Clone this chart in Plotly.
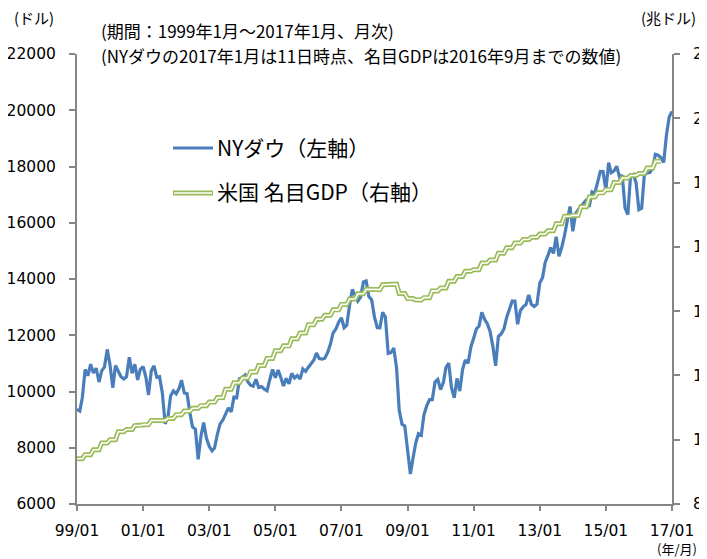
import pandas as pd
import plotly.graph_objects as go

# NY Dow monthly (1999/01 - 2017/01), USD
dow = [
    9359, 9307, 9786, 10789, 10560, 10971, 10655, 10829, 10337, 10730, 10878, 11497,   # 1999
    10941, 10128, 10922, 10734, 10522, 10448, 10522, 11215, 10651, 10971, 10414, 10788,  # 2000
    10887, 10495, 9879, 10735, 10912, 10502, 10523, 9950, 8848, 9075, 9852, 10022,    # 2001
    9920, 10106, 10404, 9946, 9925, 9243, 8737, 8664, 7592, 8397, 8896, 8342,        # 2002
    8054, 7891, 7992, 8480, 8850, 8985, 9234, 9416, 9275, 9801, 9782, 10454,         # 2003
    10488, 10584, 10358, 10226, 10188, 10435, 10140, 10174, 10080, 10027, 10428, 10783,  # 2004
    10490, 10766, 10504, 10193, 10467, 10275, 10641, 10482, 10569, 10440, 10806, 10718,  # 2005
    10865, 10993, 11109, 11367, 11168, 11150, 11186, 11381, 11679, 12081, 12222, 12463,  # 2006
    12622, 12269, 12354, 13063, 13628, 13409, 13212, 13358, 13896, 13930, 13372, 13265,  # 2007
    12650, 12266, 12263, 12820, 12638, 11350, 11378, 11544, 10851, 9325, 8829, 8776,   # 2008
    8001, 7063, 7609, 8168, 8500, 8447, 9172, 9496, 9712, 9713, 10345, 10428,          # 2009
    10067, 10325, 10857, 11009, 10137, 9774, 10466, 10015, 10788, 11118, 11006, 11578,  # 2010
    11892, 12226, 12320, 12811, 12570, 12414, 12143, 11614, 10913, 11955, 12046, 12218,  # 2011
    12633, 12952, 13212, 13214, 12393, 12880, 13009, 13091, 13437, 13096, 13026, 13104,  # 2012
    13861, 14054, 14579, 14840, 15116, 14910, 15500, 14810, 15130, 15546, 16086, 16577,  # 2013
    15699, 16322, 16458, 16581, 16717, 16827, 16563, 17098, 17043, 17391, 17828, 17823,  # 2014
    17165, 18133, 17776, 17841, 18011, 17620, 17690, 16528, 16285, 17664, 17720, 17425,  # 2015
    16466, 16517, 17685, 17774, 17787, 17930, 18432, 18401, 18308, 18142, 19124, 19763,  # 2016
    19954,                                                                               # 2017/01 (11th)
]

# US nominal GDP, quarterly (trillion USD), 1999Q1 - 2016Q3
gdp_q = [
    9.41, 9.53, 9.69, 9.90,
    10.00, 10.25, 10.32, 10.44,
    10.47, 10.60, 10.60, 10.66,
    10.78, 10.89, 10.98, 11.06,
    11.17, 11.31, 11.57, 11.77,
    11.92, 12.11, 12.31, 12.53,
    12.77, 12.92, 13.14, 13.32,
    13.58, 13.75, 13.87, 14.04,
    14.21, 14.38, 14.54, 14.68,
    14.67, 14.82, 14.84, 14.55,
    14.39, 14.35, 14.42, 14.63,
    14.72, 14.93, 15.08, 15.24,
    15.29, 15.50, 15.59, 15.80,
    15.97, 16.12, 16.23, 16.30,
    16.40, 16.50, 16.72, 16.95,
    16.98, 17.25, 17.55, 17.68,
    17.78, 18.00, 18.14, 18.22,
    18.28, 18.45, 18.66,
]

x_tick_labels = ["99/01", "01/01", "03/01", "05/01", "07/01", "09/01",
                 "11/01", "13/01", "15/01", "17/01"]

dates_dow = pd.date_range("1999-01-01", periods=len(dow), freq="MS")
gdp_m = [v for v in gdp_q for _ in range(3)]
dates_gdp = pd.date_range("1999-01-01", periods=len(gdp_m), freq="MS")
tick_dates = pd.date_range("1999-01-01", periods=len(x_tick_labels), freq="24MS")

BLUE = "#4A7EBB"
GREEN = "#9BBB59"
AXIS = "#868686"
JP = "Noto Sans CJK JP"
NUM = "DejaVu Sans"

# page layout (the page body adds an 8px offset)
OFF = 8
PL, PR, PT, PB = 77, 672, 54, 504      # plot area in page pixels
FW, FH = 707 - OFF, 559 - OFF

fig = go.Figure()
fig.add_trace(go.Scatter(x=dates_gdp, y=gdp_m, mode="lines", yaxis="y2",
                         line=dict(color=GREEN, width=5), showlegend=False,
                         hoverinfo="skip"))
fig.add_trace(go.Scatter(x=dates_gdp, y=gdp_m, mode="lines", yaxis="y2",
                         line=dict(color="white", width=1.6), showlegend=False,
                         hoverinfo="skip"))
fig.add_trace(go.Scatter(x=dates_dow, y=dow, mode="lines",
                         line=dict(color=BLUE, width=3.2), showlegend=False))

tickfont = dict(family=NUM, size=15.5, color="#000000")

fig.update_layout(
    width=FW, height=FH,
    margin=dict(l=PL - OFF, r=FW - (PR - OFF), t=PT - OFF, b=FH - (PB - OFF)),
    paper_bgcolor="white", plot_bgcolor="white",
    font=dict(family=JP, color="#000000"),
    xaxis=dict(
        type="date", range=[tick_dates[0], tick_dates[-1]], automargin=False,
        tickmode="array", tickvals=tick_dates, ticktext=x_tick_labels,
        showgrid=False, zeroline=False, showline=True, linecolor=AXIS, linewidth=2,
        ticks="outside", ticklen=5, tickcolor=AXIS, tickwidth=1.5,
        tickfont=tickfont, ticklabelstandoff=6, ticklabeloverflow="allow",
    ),
    yaxis=dict(
        range=[6000, 22000], dtick=2000, tick0=6000, tickformat="d", automargin=False,
        showgrid=False, zeroline=False, showline=True, linecolor=AXIS, linewidth=2,
        ticks="outside", ticklen=6, tickcolor=AXIS, tickwidth=1.5,
        tickfont=tickfont, ticklabelstandoff=10, ticklabeloverflow="allow",
    ),
    yaxis2=dict(
        range=[8, 22], dtick=2, tick0=8, overlaying="y", side="right", automargin=False,
        showgrid=False, zeroline=False, showline=True, linecolor=AXIS, linewidth=2,
        ticks="outside", ticklen=6, tickcolor=AXIS, tickwidth=1.5,
        tickfont=tickfont, ticklabelstandoff=10, ticklabeloverflow="allow",
    ),
)

def px_x(v):
    return (v - PL) / (PR - PL)

def px_y(v):
    return 1 - (v - PT) / (PB - PT)

ann = [
    dict(x=12, y=17, text="(ドル)", xanchor="left", size=15),
    dict(x=639, y=17, text="(兆ドル)", xanchor="left", size=15),
    dict(x=99, y=30, text="(期間：1999年1月～2017年1月、月次)", xanchor="left", size=17),
    dict(x=99, y=55, text="(NYダウの2017年1月は11日時点、名目GDPは2016年9月までの数値)", xanchor="left", size=17),
    dict(x=699, y=548, text="(年/月)", xanchor="right", size=13),
    dict(x=215, y=147, text="NYダウ（左軸）", xanchor="left", size=21),
    dict(x=215, y=191, text="米国 名目GDP（右軸）", xanchor="left", size=21),
]
annotations = []
for a in ann:
    annotations.append(dict(xref="paper", yref="paper", showarrow=False,
                            x=px_x(a["x"]), y=px_y(a["y"]),
                            text=a["text"], xanchor=a["xanchor"], yanchor="middle",
                            font=dict(family=JP, size=a["size"], color="#000000")))

shapes = [
    dict(type="line", xref="paper", yref="paper", x0=px_x(173), x1=px_x(213),
         y0=px_y(148), y1=px_y(148), line=dict(color=BLUE, width=3)),
    dict(type="line", xref="paper", yref="paper", x0=px_x(173), x1=px_x(213),
         y0=px_y(193), y1=px_y(193), line=dict(color=GREEN, width=5)),
    dict(type="line", xref="paper", yref="paper", x0=px_x(174), x1=px_x(212),
         y0=px_y(193), y1=px_y(193), line=dict(color="white", width=1.6)),
]
fig.update_layout(annotations=annotations, shapes=shapes)

fig.write_html("out.html")
